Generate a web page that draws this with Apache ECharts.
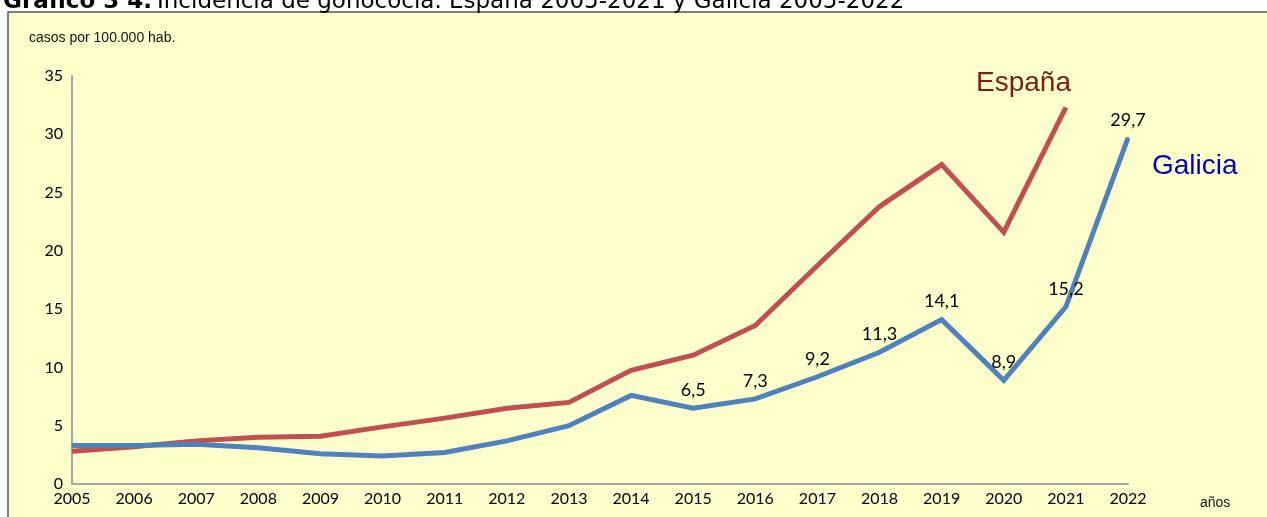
<!DOCTYPE html>
<html>
<head>
<meta charset="utf-8">
<style>
  html, body { margin: 0; padding: 0; background: #ffffff; }
  #chart { width: 1267px; height: 517px; }
</style>
<script src="https://cdn.jsdelivr.net/npm/echarts@6/dist/echarts.min.js"></script>
</head>
<body>
<div id="chart"></div>
<script>
// Incidencia de gonococia (casos por 100.000 hab.)
const years = ['2005','2006','2007','2008','2009','2010','2011','2012','2013',
               '2014','2015','2016','2017','2018','2019','2020','2021','2022'];
const espana = [2.8, 3.2, 3.7, 4.0, 4.1, 4.9, 5.65, 6.5, 7.0,
                9.75, 11.05, 13.6, 18.75, 23.8, 27.4, 21.6, 32.3];
const galicia = [3.3, 3.3, 3.4, 3.1, 2.6, 2.4, 2.7, 3.7, 5.0,
                 7.6, 6.5, 7.3, 9.2, 11.3, 14.1, 8.9, 15.2, 29.7];
// Years whose Galicia value is printed on the chart
const labelledYears = ['2015','2016','2017','2018','2019','2020','2021','2022'];
const yTicks = [0, 5, 10, 15, 20, 25, 30, 35];

const tickFont = 'Lato, "Open Sans", sans-serif';

const chart = echarts.init(document.getElementById('chart'), null, { renderer: 'canvas' });

chart.setOption({
  backgroundColor: '#ffffff',
  animation: false,
  title: {
    left: -2,
    top: -14,
    text: '{b|Gráfico 3 4.} {n|Incidencia de gonococia. España 2005-2021 y Galicia 2005-2022}',
    textStyle: {
      rich: {
        b: { fontFamily: '"DejaVu Sans", sans-serif', fontWeight: 'bold', fontSize: 23, color: '#000' },
        n: { fontFamily: '"DejaVu Sans", sans-serif', fontWeight: 'normal', fontSize: 23, color: '#000' }
      }
    }
  },
  graphic: [
    {
      type: 'rect', z: -10, silent: true,
      shape: { x: 8, y: 12, width: 1300, height: 600 },
      style: { fill: '#ffffcc', stroke: '#555555', lineWidth: 1.5 }
    },
    {
      type: 'text', left: 29, top: 31,
      style: { text: 'casos por 100.000 hab.', fontFamily: '"Liberation Sans", Arial, sans-serif',
               fontSize: 14, fill: '#111', letterSpacing: -0.5 }
    },
    {
      type: 'text', left: 1200, top: 496,
      style: { text: 'años', fontFamily: '"Liberation Sans", Arial, sans-serif',
               fontSize: 14, fill: '#111', letterSpacing: -0.5 }
    },
    {
      type: 'text', left: 976, top: 69,
      style: { text: 'España', fontFamily: '"Liberation Sans", Arial, sans-serif',
               fontSize: 28, fill: '#7f1d0a' }
    },
    {
      type: 'text', left: 1152, top: 152,
      style: { text: 'Galicia', fontFamily: '"Liberation Sans", Arial, sans-serif',
               fontSize: 28, fill: '#0000cc' }
    }
  ],
  grid: { left: 72, right: 139, top: 76, bottom: 33, containLabel: false },
  xAxis: {
    type: 'category',
    data: years,
    boundaryGap: false,
    axisLine: { show: true, lineStyle: { color: '#a6a6a6', width: 2 } },
    axisTick: { show: false },
    axisLabel: { color: '#000', fontFamily: tickFont, fontSize: 16, margin: 7, interval: 0 },
    splitLine: { show: false }
  },
  yAxis: {
    type: 'value',
    min: yTicks[0],
    max: yTicks[yTicks.length - 1],
    interval: 5,
    axisLine: { show: true, lineStyle: { color: '#a6a6a6', width: 2 } },
    axisTick: { show: false },
    axisLabel: { color: '#000', fontFamily: tickFont, fontSize: 16, margin: 9 },
    splitLine: { show: false }
  },
  series: [
    {
      name: 'España',
      type: 'line',
      data: espana,
      symbol: 'none',
      lineStyle: { color: '#c0504d', width: 5, join: 'miter' },
      z: 2
    },
    {
      name: 'Galicia',
      type: 'line',
      data: galicia,
      symbol: 'circle',
      symbolSize: 2,
      showSymbol: true,
      itemStyle: { color: '#4f81bd' },
      lineStyle: { color: '#4f81bd', width: 5, join: 'miter' },
      label: {
        show: true,
        position: 'top',
        distance: 8,
        color: '#000',
        fontFamily: tickFont,
        fontSize: 18,
        letterSpacing: 0.8,
        formatter: p => labelledYears.includes(p.name) ? String(p.value).replace('.', ',') : ''
      },
      z: 3
    }
  ]
});
</script>
</body>
</html>
